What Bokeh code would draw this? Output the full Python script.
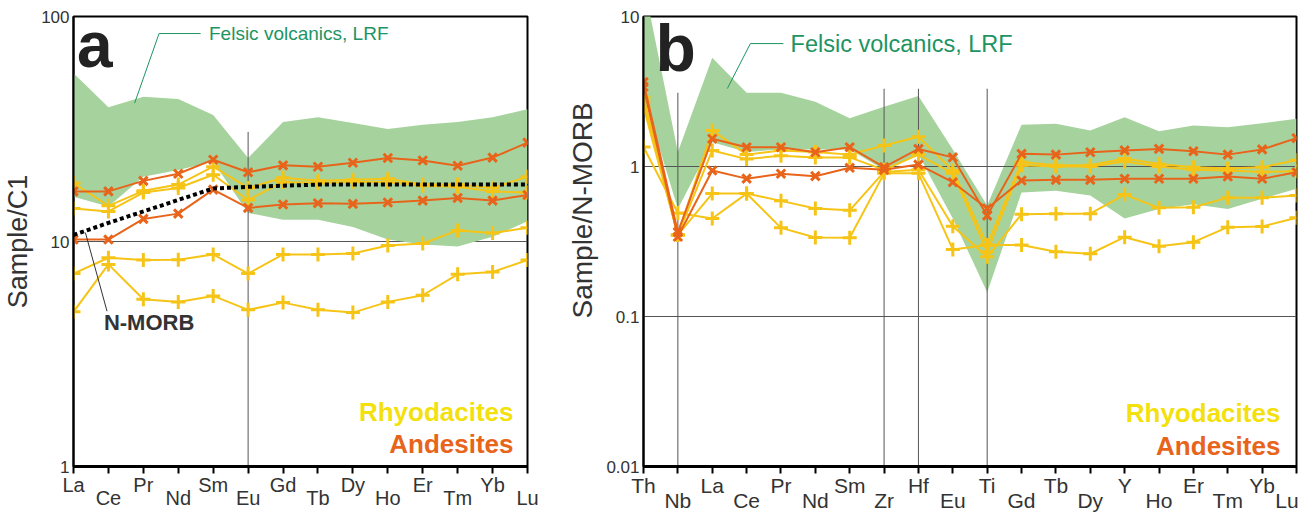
from bokeh.plotting import figure
from bokeh.models import Range1d, FixedTicker, CustomJSTickFormatter, Label, LinearAxis
from bokeh.layouts import row
from bokeh.embed import file_html
from bokeh.resources import INLINE

# ---------------- data: panel a (chondrite C1 normalised REE) ----------------
a_elements = ["La", "Ce", "Pr", "Nd", "Sm", "Eu", "Gd", "Tb", "Dy", "Ho", "Er", "Tm", "Yb", "Lu"]
a_band_upper = [56, 39.5, 44, 43, 36.5, 23.5, 34, 35.7, 33.6, 31.6, 33, 34, 35.7, 38.7]
a_band_lower = [15.8, 14.3, 19.4, 20.8, 22.6, 13.4, 12.5, 12.5, 11.6, 10.2, 9.7, 9.5, 10.5, 12.3]
a_rhyodacites = [
    [18.2, 14.4, 16.8, 17.9, 21.5, 17.3, 19.2, 18.6, 18.8, 19.0, 17.9, 17.9, 17.3, 19.4],
    [14.0, 13.6, 16.5, 17.3, 19.8, 15.3, 18.4, 18.2, 18.4, 18.4, 17.7, 17.5, 16.7, 16.5],
    [7.2, 8.47, 8.27, 8.3, 8.76, 7.2, 8.76, 8.76, 8.85, 9.6, 9.8, 11.2, 10.9, 11.5],
    [4.87, 7.91, 5.54, 5.39, 5.73, 4.97, 5.35, 4.97, 4.83, 5.39, 5.77, 7.15, 7.32, 8.27],
]
a_andesites = [
    [16.7, 16.7, 18.6, 20.0, 23.1, 20.3, 21.8, 21.5, 22.4, 23.5, 22.9, 21.7, 23.6, 27.5],
    [10.2, 10.2, 12.6, 13.3, 17.0, 14.1, 14.6, 14.8, 14.7, 14.9, 15.2, 15.6, 15.2, 16.1],
]
a_nmorb = [10.7, 12.1, 13.6, 15.3, 17.2, 17.5, 17.7, 17.9, 17.9, 17.9, 17.9, 17.9, 17.9, 17.9]
a_yticks = [1, 10, 100]
a_hlines = [10]
a_vlines = {"Eu": 30.7}

# ---------------- data: panel b (N-MORB normalised) ----------------
b_elements = ["Th", "Nb", "La", "Ce", "Pr", "Nd", "Sm", "Zr", "Hf", "Eu", "Ti",
              "Gd", "Tb", "Dy", "Y", "Ho", "Er", "Tm", "Yb", "Lu"]
b_band_upper = [17, 1.25, 5.3, 3.1, 3.1, 2.7, 2.1, 2.5, 2.95, 1.3, 0.55,
                1.9, 1.93, 1.74, 2.13, 1.72, 1.88, 1.83, 1.94, 2.08]
b_band_lower = [3.0, 0.52, 1.45, 1.25, 1.3, 1.3, 1.3, 0.95, 1.2, 0.45, 0.145,
                0.67, 0.69, 0.64, 0.45, 0.52, 0.56, 0.52, 0.61, 0.71]
b_rhyodacites = [
    [2.9, 0.35, 1.74, 1.2, 1.28, 1.25, 1.2, 1.38, 1.58, 0.94, 0.3,
     1.07, 1.02, 1.02, 1.13, 1.04, 0.99, 0.97, 0.99, 1.1],
    [2.5, 0.35, 1.28, 1.12, 1.18, 1.15, 1.15, 0.95, 1.2, 0.9, 0.27,
     1.02, 1.0, 1.0, 1.08, 1.0, 0.95, 0.94, 0.92, 0.93],
    [2.7, 0.35, 0.66, 0.66, 0.59, 0.525, 0.51, 0.92, 0.95, 0.4, 0.25,
     0.48, 0.485, 0.485, 0.65, 0.53, 0.535, 0.62, 0.62, 0.64],
    [1.35, 0.49, 0.45, 0.66, 0.39, 0.336, 0.335, 0.9, 0.9, 0.28, 0.3,
     0.3, 0.27, 0.262, 0.338, 0.294, 0.313, 0.394, 0.398, 0.455],
]
b_andesites = [
    [3.65, 0.365, 1.53, 1.345, 1.345, 1.245, 1.345, 0.99, 1.31, 1.15, 0.47,
     1.215, 1.2, 1.245, 1.28, 1.31, 1.265, 1.2, 1.3, 1.545],
    [3.4, 0.34, 0.94, 0.83, 0.894, 0.862, 0.98, 0.95, 1.03, 0.786, 0.525,
     0.807, 0.815, 0.815, 0.828, 0.828, 0.828, 0.858, 0.828, 0.916],
]
b_yticks = [0.01, 0.1, 1, 10]
b_hlines = [1, 0.1]
b_vlines = {"Nb": 3.1, "Zr": 3.3, "Hf": 3.3, "Ti": 3.3}

# ---------------- styles ----------------
FONT = "Liberation Sans"
YEL = "#F5C416"
ORA = "#E8641B"
BAND = "#A6D39D"
GTXT = "#1E9463"
DARK = "#333333"
RHY_TXT = "#F3E00C"
GRID = "#555555"
NBSP = "\u00a0"


def base_fig(width, height, names, ylo, yhi, bl, br, bb, yticks, ylabel, ylab_size,
             xlab_size, even_standoff, odd_standoff, last_pad=0):
    n = len(names)
    p = figure(width=width, height=height, x_range=Range1d(0, n - 1),
               y_range=Range1d(ylo, yhi), y_axis_type="log",
               output_backend="svg", toolbar_location=None,
               min_border_left=bl, min_border_right=br, min_border_top=16,
               min_border_bottom=bb)
    p.grid.visible = False
    p.outline_line_color = "black"
    p.outline_line_width = 2
    p.background_fill_color = "white"
    p.border_fill_color = "white"
    # y axis
    yax = p.yaxis[0]
    yax.ticker = FixedTicker(ticks=yticks, minor_ticks=[])
    yax.formatter = CustomJSTickFormatter(code="return String(tick)")
    yax.major_tick_out = 0
    yax.major_tick_in = 0
    yax.minor_tick_out = 0
    yax.axis_line_width = 2
    yax.axis_line_color = "black"
    yax.major_label_text_font = FONT
    yax.major_label_text_font_size = "17px"
    yax.major_label_text_color = DARK
    yax.major_label_standoff = 4
    yax.axis_label = ylabel
    yax.axis_label_text_font = FONT
    yax.axis_label_text_font_style = "normal"
    yax.axis_label_text_font_size = ylab_size
    yax.axis_label_text_color = DARK
    yax.axis_label_standoff = 5
    # x axis: tick marks only
    xax = p.xaxis[0]
    xax.ticker = FixedTicker(ticks=list(range(n)), minor_ticks=[])
    xax.formatter = CustomJSTickFormatter(code="return ''")
    xax.major_label_text_font_size = "0px"
    xax.major_label_standoff = 0
    xax.axis_line_width = 3
    xax.axis_line_color = "black"
    xax.major_tick_out = 7
    xax.major_tick_in = 0
    xax.major_tick_line_width = 2
    xax.major_tick_line_color = "black"
    xax.minor_tick_out = 0
    # two label rows (staggered element names)
    for parity, standoff in ((0, even_standoff), (1, odd_standoff)):
        idx = [i for i in range(n) if i % 2 == parity]
        labels = {}
        for i in idx:
            labels[i] = names[i] + (NBSP * last_pad if i == n - 1 else "")
        ax = LinearAxis(ticker=FixedTicker(ticks=idx, minor_ticks=[]),
                        major_label_overrides=labels,
                        major_tick_out=0, major_tick_in=0, minor_tick_out=0,
                        minor_tick_in=0, axis_line_color=None,
                        major_tick_line_color=None, minor_tick_line_color=None,
                        major_label_standoff=standoff,
                        major_label_text_font=FONT,
                        major_label_text_font_size=xlab_size,
                        major_label_text_color=DARK)
        p.add_layout(ax, "below")
    return p


def draw_series(p, xs, rhy, andes):
    for s in rhy:
        p.line(xs, s, line_color=YEL, line_width=2)
        p.scatter(xs, s, marker="cross", size=14, line_color=YEL, line_width=3)
    for s in andes:
        p.line(xs, s, line_color=ORA, line_width=2)
        p.scatter(xs, s, marker="x", size=12, line_color=ORA, line_width=3)


# ================= panel a =================
na = len(a_elements)
xa = list(range(na))
pa = base_fig(560, 515, a_elements, 1, 100, 66, 33, 47, a_yticks, "Sample/C1", "27px",
              "20px", 0, -12)
for h in a_hlines:
    pa.line([0, na - 1], [h, h], line_color=GRID, line_width=1)
pa.varea(x=xa, y1=a_band_lower, y2=a_band_upper, fill_color=BAND)
for el, top in a_vlines.items():
    i = a_elements.index(el)
    pa.line([i, i], [top, 1], line_color=GRID, line_width=1)
draw_series(pa, xa, a_rhyodacites, a_andesites)
pa.line(xa, a_nmorb, line_color="black", line_width=4, line_dash="4 3")

pa.add_layout(Label(x=0.10, y=74.4, text="a", text_font=FONT, text_font_style="bold",
                    text_font_size="64px", text_color="#222222",
                    text_baseline="middle"))
pa.line([3.64, 2.45, 1.75], [84, 84, 41.2], line_color=GTXT, line_width=1)
pa.add_layout(Label(x=3.88, y=84, text="Felsic volcanics, LRF", text_font=FONT,
                    text_font_size="19px", text_color=GTXT, text_baseline="middle"))
pa.line([0.34, 0.96], [10.96, 4.9], line_color=DARK, line_width=1)
pa.add_layout(Label(x=0.87, y=4.38, text="N-MORB", text_font=FONT, text_font_style="bold",
                    text_font_size="22px", text_color=DARK, text_baseline="middle"))
pa.add_layout(Label(x=12.6, y=1.75, text="Rhyodacites", text_font=FONT, text_font_style="bold",
                    text_font_size="26px", text_color=RHY_TXT, text_baseline="middle",
                    text_align="right"))
pa.add_layout(Label(x=12.6, y=1.26, text="Andesites", text_font=FONT, text_font_style="bold",
                    text_font_size="26px", text_color=ORA, text_baseline="middle",
                    text_align="right"))

# ================= panel b =================
nb = len(b_elements)
xb = list(range(nb))
pb = base_fig(744, 515, b_elements, 0.01, 10, 83, 8, 49, b_yticks,
              NBSP * 8 + "Sample/N-MORB", "28px", "21px", 0, -11, last_pad=1)
pb.varea(x=xb, y1=b_band_lower, y2=b_band_upper, fill_color=BAND)
for h in b_hlines:
    pb.line([0, nb - 1], [h, h], line_color=GRID, line_width=1)
for el, top in b_vlines.items():
    i = b_elements.index(el)
    pb.line([i, i], [top, 0.01], line_color=GRID, line_width=1)
draw_series(pb, xb, b_rhyodacites, b_andesites)

pb.add_layout(Label(x=0.35, y=6.12, text="b", text_font=FONT, text_font_style="bold",
                    text_font_size="66px", text_color="#222222",
                    text_baseline="middle"))
pb.line([4.07, 3.11, 2.44], [6.6, 6.6, 3.31], line_color=GTXT, line_width=1)
pb.add_layout(Label(x=4.28, y=6.6, text="Felsic volcanics, LRF", text_font=FONT,
                    text_font_size="23.5px", text_color=GTXT, text_baseline="middle"))
pb.add_layout(Label(x=18.53, y=0.02256, text="Rhyodacites", text_font=FONT, text_font_style="bold",
                    text_font_size="26px", text_color=RHY_TXT, text_baseline="middle",
                    text_align="right"))
pb.add_layout(Label(x=18.53, y=0.0138, text="Andesites", text_font=FONT, text_font_style="bold",
                    text_font_size="26px", text_color=ORA, text_baseline="middle",
                    text_align="right"))

layout = row(pa, pb)
open("out.html", "w").write(file_html(layout, INLINE))
